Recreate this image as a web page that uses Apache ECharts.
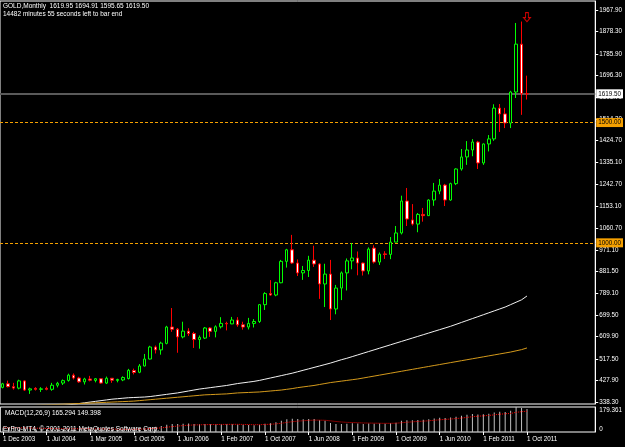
<!DOCTYPE html>
<html lang="en">
<head>
    <meta charset="UTF-8">
    <title>GOLD Monthly</title>
    <script src="https://cdn.jsdelivr.net/npm/echarts@6.0.0/dist/echarts.min.js"></script>
    <style>
        body { margin: 0; padding: 0; background: #000; overflow: hidden; }
        #chart { width: 625px; height: 447px; }
    </style>
</head>
<body>
<div id="chart"></div>
<script>
    // bar dates (broker history has two doubled months)
    const months = [
        '1 Dec 2003', '1 Jan 2004', '1 Feb 2004', '1 Mar 2004', '1 Apr 2004', '1 May 2004', '31 May 2004', '1 Jun 2004',
        '1 Jul 2004', '1 Aug 2004', '1 Sep 2004', '1 Oct 2004', '1 Nov 2004', '1 Dec 2004', '1 Jan 2005', '1 Feb 2005',
        '1 Mar 2005', '1 Apr 2005', '1 May 2005', '1 Jun 2005', '1 Jul 2005', '1 Aug 2005', '31 Aug 2005', '1 Sep 2005',
        '1 Oct 2005', '1 Nov 2005', '1 Dec 2005', '1 Jan 2006', '1 Feb 2006', '1 Mar 2006', '1 Apr 2006', '1 May 2006',
        '1 Jun 2006', '1 Jul 2006', '1 Aug 2006', '1 Sep 2006', '1 Oct 2006', '1 Nov 2006', '1 Dec 2006', '1 Jan 2007',
        '1 Feb 2007', '1 Mar 2007', '1 Apr 2007', '1 May 2007', '1 Jun 2007', '1 Jul 2007', '1 Aug 2007', '1 Sep 2007',
        '1 Oct 2007', '1 Nov 2007', '1 Dec 2007', '1 Jan 2008', '1 Feb 2008', '1 Mar 2008', '1 Apr 2008', '1 May 2008',
        '1 Jun 2008', '1 Jul 2008', '1 Aug 2008', '1 Sep 2008', '1 Oct 2008', '1 Nov 2008', '1 Dec 2008', '1 Jan 2009',
        '1 Feb 2009', '1 Mar 2009', '1 Apr 2009', '1 May 2009', '1 Jun 2009', '1 Jul 2009', '1 Aug 2009', '1 Sep 2009',
        '1 Oct 2009', '1 Nov 2009', '1 Dec 2009', '1 Jan 2010', '1 Feb 2010', '1 Mar 2010', '1 Apr 2010', '1 May 2010',
        '1 Jun 2010', '1 Jul 2010', '1 Aug 2010', '1 Sep 2010', '1 Oct 2010', '1 Nov 2010', '1 Dec 2010', '1 Jan 2011',
        '1 Feb 2011', '1 Mar 2011', '1 Apr 2011', '1 May 2011', '1 Jun 2011', '1 Jul 2011', '1 Aug 2011', '1 Sep 2011',
        '1 Oct 2011'
    ];

    // [open, close, low, high]
    const bars = [
        [399, 414, 395, 418], [414, 402, 399, 427], [402, 396, 390, 418], [396, 426, 391, 431], [426, 388, 384, 428],
        [388, 393, 372, 398], [395, 391, 386, 400], [391, 393, 380, 400], [395, 391, 387, 402], [391, 408, 385, 418],
        [408, 416, 399, 422], [417, 427, 409, 432], [428, 450, 423, 456], [450, 438, 432, 457], [438, 422, 418, 443],
        [422, 434, 411, 439], [434, 429, 424, 447], [428, 435, 420, 438], [435, 417, 414, 437], [417, 437, 413, 444],
        [437, 429, 418, 438], [428, 432, 420, 435], [430, 440, 425, 445], [436, 470, 432, 476], [469, 461, 453, 477],
        [462, 488, 458, 496], [488, 517, 486, 538], [517, 567, 515, 572], [567, 555, 540, 573], [555, 583, 535, 589],
        [582, 650, 578, 655], [650, 641, 630, 729], [641, 609, 543, 646], [609, 633, 603, 672], [633, 623, 613, 645],
        [623, 598, 563, 630], [598, 607, 560, 615], [604, 646, 600, 650], [646, 632, 609, 650], [632, 651, 607, 657],
        [651, 665, 644, 691], [665, 663, 636, 672], [663, 679, 662, 692], [679, 659, 651, 691], [659, 650, 639, 672],
        [650, 665, 640, 688], [665, 673, 648, 683], [673, 743, 667, 745], [743, 789, 721, 795], [789, 783, 780, 845],
        [783, 834, 778, 838], [834, 923, 832, 929], [923, 971, 897, 975], [971, 916, 912, 1033], [916, 875, 862, 931],
        [875, 885, 846, 904], [885, 928, 858, 946], [928, 912, 900, 988], [912, 829, 767, 915], [829, 870, 733, 913],
        [870, 725, 679, 929], [725, 812, 703, 825], [812, 875, 762, 881], [875, 925, 802, 935], [925, 937, 890, 999],
        [937, 916, 865, 964], [916, 883, 864, 918], [883, 974, 869, 981], [978, 920, 914, 990], [920, 953, 908, 960],
        [954, 952, 933, 965], [952, 1003, 932, 1024], [1003, 1041, 1003, 1070], [1041, 1174, 1035, 1196], [1174, 1099, 1070, 1228],
        [1095, 1078, 1072, 1161], [1078, 1118, 1044, 1124], [1118, 1113, 1088, 1145], [1113, 1178, 1112, 1181], [1178, 1215, 1154, 1249],
        [1215, 1240, 1202, 1265], [1240, 1178, 1153, 1245], [1178, 1246, 1175, 1250], [1246, 1307, 1240, 1310], [1307, 1357, 1300, 1390],
        [1357, 1386, 1324, 1423], [1386, 1419, 1360, 1431], [1419, 1332, 1307, 1424], [1332, 1411, 1324, 1413], [1411, 1432, 1380, 1448],
        [1432, 1560, 1424, 1576], [1560, 1536, 1461, 1577], [1536, 1498, 1477, 1561], [1498, 1627, 1477, 1632], [1627, 1826, 1602, 1914],
        [1826, 1620, 1532, 1920], [1619.95, 1619.50, 1595.65, 1694.91]
    ];

    // moving averages drawn on the price window
    const maWhite = [
        300, 302, 304, 306, 308, 310, 312, 314, 316, 318,
        320, 323, 326, 329, 332, 335, 338, 341, 344, 347,
        350, 352, 354, 356, 357, 358, 359, 361, 364, 367,
        370, 373, 376, 380, 384, 388, 392, 395, 398, 401,
        404, 407, 411, 415, 418, 421, 424, 428, 433, 438,
        443, 448, 453, 458, 464, 470, 476, 482, 488, 494,
        500, 507, 514, 520, 527, 534, 541, 548, 555, 562,
        569, 576, 583, 590, 597, 604, 611, 618, 625, 632,
        639, 646, 653, 661, 669, 677, 685, 693, 701, 709,
        717, 725, 733, 743, 753, 763, 779
    ];
    const maOrange = [
        318, 319, 320, 321, 322, 323, 324, 325, 326, 327,
        328, 329, 330, 331, 332, 333, 334, 335, 336, 337,
        338, 339, 340, 341, 342, 344, 346, 348, 350, 352,
        354, 356, 358, 360, 362, 364, 366, 368, 369, 370,
        371, 372, 374, 376, 377, 378, 379, 380, 382, 384,
        386, 388, 391, 394, 398, 401, 404, 407, 411, 415,
        419, 422, 425, 428, 431, 434, 438, 442, 446, 450,
        454, 458, 462, 466, 470, 474, 478, 482, 486, 490,
        494, 498, 502, 506, 510, 514, 518, 522, 526, 530,
        534, 538, 542, 546, 551, 556, 563
    ];

    // MACD(12,26,9) window
    const macd = [
        30.2, 29.8, 28.7, 29.9, 27.5, 25.7, 23.9, 22.2, 20.6, 20.4,
        20.7, 21.6, 23.8, 24.4, 23.3, 23.0, 22.2, 21.8, 19.9, 19.6,
        18.6, 17.8, 17.6, 19.7, 20.4, 22.8, 26.7, 33.5, 37.5, 42.5,
        51.2, 56.7, 57.8, 59.9, 60.2, 57.6, 55.7, 56.6, 55.6, 55.8,
        56.3, 56.0, 56.4, 54.3, 51.4, 49.8, 48.6, 52.7, 59.0, 62.8,
        69.1, 80.3, 92.0, 95.8, 93.4, 92.2, 93.7, 92.5, 84.2, 80.5,
        64.3, 57.8, 56.5, 59.4, 61.9, 61.5, 57.9, 61.6, 59.9, 60.1,
        59.6, 62.4, 66.9, 80.1, 83.8, 84.2, 86.6, 87.2, 91.8, 97.1,
        102.6, 100.8, 103.6, 109.2, 116.4, 123.0, 129.4, 126.0, 128.2, 130.1,
        140.6, 145.2, 144.2, 152.0, 179.361, 172.0, 165.294
    ];
    const signal = [
        30.0, 29.9, 29.7, 29.7, 29.3, 28.6, 27.6, 26.5, 25.3, 24.3,
        23.6, 23.2, 23.3, 23.5, 23.5, 23.4, 23.2, 22.9, 22.3, 21.8,
        21.2, 20.5, 19.9, 19.9, 20.0, 20.6, 21.8, 24.1, 26.8, 29.9,
        34.2, 38.7, 42.5, 46.0, 48.8, 50.6, 51.6, 52.6, 53.2, 53.7,
        54.2, 54.6, 55.0, 54.9, 54.2, 53.3, 52.4, 52.5, 53.8, 55.6,
        58.3, 62.7, 68.6, 74.0, 77.9, 80.8, 83.4, 85.2, 85.0, 84.1,
        80.1, 75.6, 71.8, 69.3, 67.8, 66.5, 64.8, 64.2, 63.3, 62.7,
        62.1, 62.2, 63.1, 66.5, 69.9, 72.8, 75.6, 77.9, 80.7, 84.0,
        87.7, 90.3, 93.0, 96.2, 100.2, 104.8, 109.7, 113.0, 116.0, 118.8,
        123.2, 127.6, 130.9, 133.0, 141.0, 146.0, 149.398
    ];

    // price scale labels as printed on the right
    const priceTicks = [1967.90, 1878.30, 1785.90, 1696.30, 1606.70, 1514.30, 1424.70, 1335.10, 1242.70, 1153.10,
        1060.70, 971.10, 881.50, 789.10, 699.50, 609.90, 517.50, 427.90, 338.30];
    const macdTicks = [0, 179.361];
    const lastPrice = 1619.50;
    const levels = [1500, 1000];
    const arrowAt = [96, 1938];

    const font = 'Liberation Sans';
    const fs = 6.3;
    const chart = echarts.init(document.getElementById('chart'));
    const labelEvery8 = (idx) => idx % 8 === 0 && idx < months.length;

    const txt = (text, left, top) => ({
        text: text, left: left, top: top, padding: 0,
        textStyle: { color: '#fff', fontSize: 6.5, fontWeight: 'normal', fontFamily: font }
    });

    chart.setOption({
        backgroundColor: '#000',
        animation: false,
        title: [
            txt('GOLD,Monthly  1619.95 1694.91 1595.65 1619.50', 3, 3),
            txt('14482 minutes 55 seconds left to bar end', 3, 11),
            txt('MACD(12,26,9) 165.294 149.398', 5, 409.5),
            txt('ExPro-MT4, \u00a9 2001-2011 MetaQuotes Software Corp.', 3, 426)
        ],
        grid: [
            { left: 0, top: 1, width: 596, height: 403, show: true, borderColor: '#fff', borderWidth: 1 },
            { left: 0, top: 407, width: 596, height: 25, show: true, borderColor: '#fff', borderWidth: 1 }
        ],
        xAxis: [
            {
                type: 'category', gridIndex: 0, data: months, max: 108,
                axisLine: { show: false }, axisTick: { show: false }, axisLabel: { show: false }, splitLine: { show: false }
            },
            {
                type: 'category', gridIndex: 1, data: months, max: 108,
                axisLine: { show: false },
                axisTick: { show: true, alignWithLabel: true, interval: labelEvery8, length: 3, lineStyle: { color: '#fff' } },
                axisLabel: { interval: labelEvery8, align: 'left', margin: 4, color: '#fff', fontSize: fs, fontFamily: font },
                splitLine: { show: false }
            }
        ],
        yAxis: [
            {
                type: 'value', gridIndex: 0, position: 'right', min: 330.0, max: 2005.3,
                axisLine: { show: true, lineStyle: { color: '#fff' } },
                axisTick: { show: true, length: 3, customValues: priceTicks, lineStyle: { color: '#fff' } },
                axisLabel: { customValues: priceTicks, formatter: v => v.toFixed(2), margin: 4, color: '#fff', fontSize: fs, fontFamily: font },
                splitLine: { show: false }
            },
            {
                type: 'value', gridIndex: 1, position: 'right', min: 0, max: 179.361,
                axisLine: { show: true, lineStyle: { color: '#fff' } },
                axisTick: { show: false },
                axisLabel: {
                    customValues: macdTicks, formatter: v => v === 0 ? '0' : v.toFixed(3), margin: 4,
                    verticalAlignMaxLabel: 'top', verticalAlignMinLabel: 'bottom',
                    color: '#fff', fontSize: fs, fontFamily: font
                },
                splitLine: { show: false }
            }
        ],
        series: [
            {
                name: 'maWhite', type: 'line', xAxisIndex: 0, yAxisIndex: 0, data: maWhite,
                symbol: 'none', lineStyle: { color: '#f2f2f2', width: 1 }, z: 1
            },
            {
                name: 'maOrange', type: 'line', xAxisIndex: 0, yAxisIndex: 0, data: maOrange,
                symbol: 'none', lineStyle: { color: '#d49a1c', width: 1 }, z: 1
            },
            {
                name: 'GOLD', type: 'candlestick', xAxisIndex: 0, yAxisIndex: 0, data: bars,
                barWidth: 3, z: 3,
                itemStyle: { color: '#000', color0: '#fff', borderColor: '#00ff00', borderColor0: '#ff0000', borderWidth: 1 },
                markLine: {
                    symbol: ['none', 'none'], silent: true, z: 2,
                    label: { position: 'end', distance: 1, fontSize: fs, fontFamily: font, padding: [2, 2, 1, 2] },
                    data: [
                        {
                            yAxis: lastPrice, lineStyle: { color: '#5a5a5a', width: 2, type: 'solid' },
                            label: { formatter: lastPrice.toFixed(2), backgroundColor: '#fff', color: '#000' }
                        }
                    ].concat(levels.map(v => ({
                        yAxis: v, lineStyle: { color: '#f5a000', width: 1, type: [3, 2] },
                        label: { formatter: v.toFixed(2), backgroundColor: '#f5a000', color: '#000' }
                    })))
                },
                markPoint: {
                    silent: true,
                    data: [{
                        coord: arrowAt,
                        symbol: 'path://M3,0 L7,0 L7,6 L10,6 L5,11 L0,6 L3,6 Z',
                        symbolSize: [7, 9],
                        itemStyle: { color: '#000', borderColor: '#d00000', borderWidth: 1 },
                        label: { show: false }
                    }]
                }
            },
            {
                name: 'MACD', type: 'bar', xAxisIndex: 1, yAxisIndex: 1, data: macd,
                barWidth: 1, itemStyle: { color: '#c0c0c0' }
            },
            {
                name: 'Signal', type: 'line', xAxisIndex: 1, yAxisIndex: 1, data: signal,
                symbol: 'none', lineStyle: { color: '#ff0000', width: 1, type: 'dotted' }
            }
        ]
    });
</script>
</body>
</html>
